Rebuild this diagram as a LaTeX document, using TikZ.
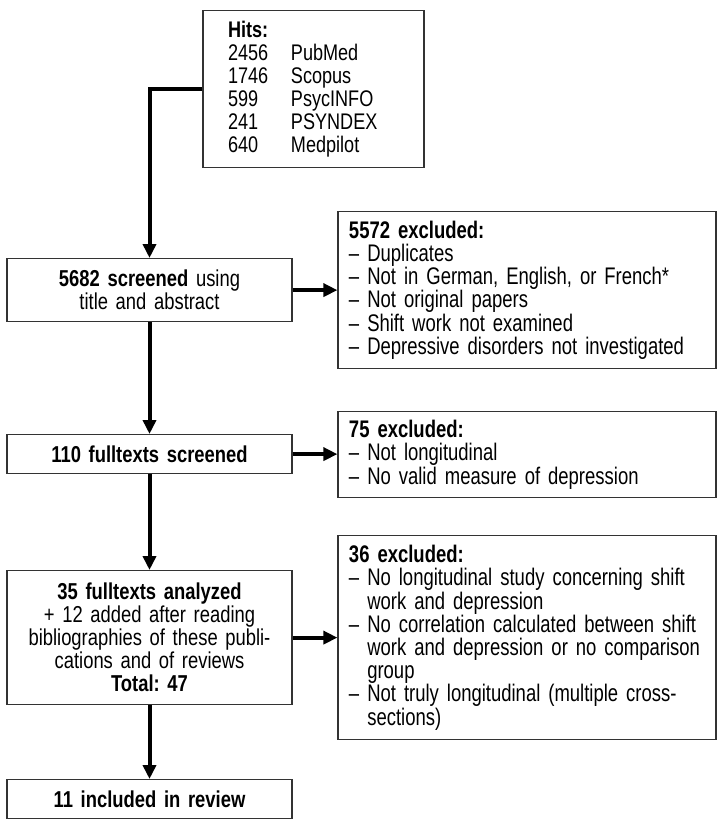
\documentclass[tikz,border=0pt]{standalone}
\usepackage{fontspec}
\setmainfont{Liberation Sans}[FakeStretch=0.8]
\newfontfamily\exclfont{Liberation Sans}[FakeStretch=0.77]
\usepackage{tikz}
\usetikzlibrary{arrows.meta, positioning, calc}

\frenchspacing
\hyphenpenalty=10000
\newcommand{\dashitem}{\textendash\ }
\newcommand{\dashcont}{\hphantom{\textendash\ }}

\begin{document}
\begin{tikzpicture}[
  x=0.5pt, y=0.5pt,
  >={Triangle[length=7pt, width=6.5pt]},
  stage/.style={rectangle, draw=black!80, line width=0.6pt, align=center, font=\fontsize{11.5}{11.5}\selectfont, inner sep=2pt, text width=138.5pt, minimum width=142.5pt},
  excluded/.style={rectangle, draw=black!80, line width=0.6pt, align=left, font=\exclfont\fontsize{12}{11.6}\selectfont, inner xsep=5.5pt, inner ysep=2pt, text width=178pt, minimum width=189pt},
  arrow/.style={->, line width=2pt, draw=black, line join=miter}
]
\useasboundingbox (0,0) rectangle (723,-827);

% ---------------------------------------------------
% Coordinate Grid
% ---------------------------------------------------
\def\xLeft{149.5}
\def\xRight{527}
\def\xHits{313.5}

\def\yHits{-10}
\def\yScreen{-258}
\def\yExclOne{-211}
\def\yFull{-434}
\def\yExclTwo{-411}
\def\yAnal{-570}
\def\yExclThree{-535}
\def\yIncl{-779}

% ---------------------------------------------------
% 1. Search hits
% ---------------------------------------------------
\node[excluded, anchor=north, font=\fontsize{11.3}{11.5}\selectfont, inner xsep=12.5pt, text width=85.5pt, minimum width=110.5pt, minimum height=78.5pt] (hits) at (\xHits, \yHits) {\textbf{Hits:}\\\makebox[31.5pt][l]{2456}PubMed\\\makebox[31.5pt][l]{1746}Scopus\\\makebox[31.5pt][l]{599}PsycINFO\\\makebox[31.5pt][l]{241}PSYNDEX\\\makebox[31.5pt][l]{640}Medpilot};

% ---------------------------------------------------
% 2. Screening stages (left column)
% ---------------------------------------------------
\node[stage, anchor=north, minimum height=31.5pt] (screen) at (\xLeft, \yScreen) {\textbf{5682 screened} using\\title and abstract};

\node[stage, anchor=north, minimum height=19.5pt] (full) at (\xLeft, \yFull) {\textbf{110 fulltexts screened}};

\node[stage, anchor=north, minimum height=67pt] (anal) at (\xLeft, \yAnal) {\textbf{35 fulltexts analyzed}\\+ 12 added after reading\\bibliographies of these publi-\\cations and of reviews\\\textbf{Total: 47}};

\node[stage, anchor=north, minimum height=19.5pt] (incl) at (\xLeft, \yIncl) {\textbf{11 included in review}};

% ---------------------------------------------------
% 3. Exclusions (right column)
% ---------------------------------------------------
\node[excluded, anchor=north, minimum height=78.5pt] (exclone) at (\xRight, \yExclOne) {\textbf{5572 excluded:}\\\dashitem Duplicates\\\dashitem Not in German, English, or French*\\\dashitem Not original papers\\\dashitem Shift work not examined\\\dashitem Depressive disorders not investigated};

\node[excluded, anchor=north, minimum height=43pt] (excltwo) at (\xRight, \yExclTwo) {\textbf{75 excluded:}\\\dashitem Not longitudinal\\\dashitem No valid measure of depression};

\node[excluded, anchor=north, minimum height=102pt] (exclthree) at (\xRight, \yExclThree) {\textbf{36 excluded:}\\\dashitem No longitudinal study concerning shift\\\dashcont work and depression\\\dashitem No correlation calculated between shift\\\dashcont work and depression or no comparison\\\dashcont group\\\dashitem Not truly longitudinal (multiple cross-\\\dashcont sections)};

% ---------------------------------------------------
% Draw Connections
% ---------------------------------------------------
\draw[arrow] (hits.west) -| (screen.north);

\draw[arrow] (screen) -- (full);
\draw[arrow] (full) -- (anal);
\draw[arrow] (anal) -- (incl);

\draw[arrow] (screen.east) -- (exclone.west |- screen.east);
\draw[arrow] (full.east) -- (excltwo.west |- full.east);
\draw[arrow] (anal.east) -- (exclthree.west |- anal.east);

\end{tikzpicture}
\end{document}
